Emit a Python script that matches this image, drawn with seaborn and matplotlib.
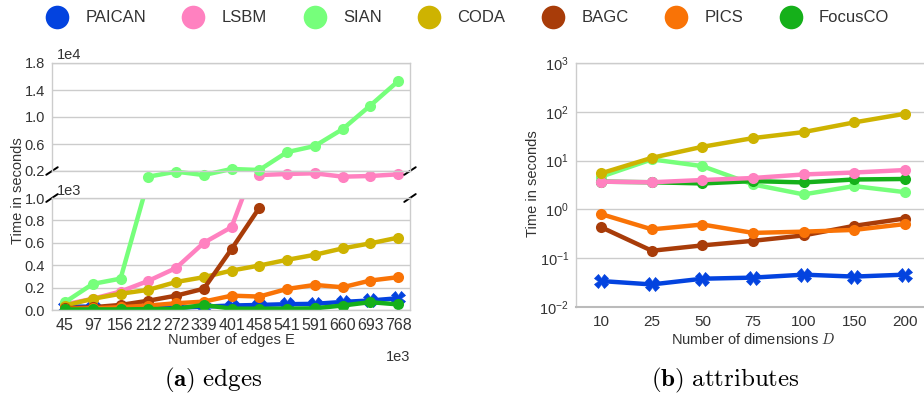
import numpy as np
import pandas as pd
import matplotlib
matplotlib.use("Agg")
import matplotlib.pyplot as plt
import seaborn as sns

sns.set_style("white")
plt.rcParams["font.family"] = ["Liberation Sans", "DejaVu Sans"]
plt.rcParams["mathtext.fontset"] = "cm"

methods = ["PAICAN", "LSBM", "SIAN", "CODA", "BAGC", "PICS", "FocusCO"]
colors = ["#0343df", "#ff81c0", "#76ff7b", "#ceb301", "#a83c09", "#f97306", "#15b01a"]
markers = ["X", "o", "o", "o", "o", "o", "o"]

# (a) runtime vs. number of edges (edges in thousands, time in seconds)
edges = [45, 97, 156, 212, 272, 339, 401, 458, 541, 591, 660, 693, 768]
edge_paican = [30, 30, 15, 15, 20, 30, 40, 45, 52, 55, 72, 85, 105]
edge_lsbm = [50, 100, 165, 260, 375, 600, 740, 1400, 1560, 1660, 1160, 1260, 1510]
edge_sian = [70, 233, 280, 1160, 1900, 1400, 2300, 2150, 4800, 5700, 8200, 11700, 15300]
edge_coda = [40, 100, 145, 180, 250, 293, 352, 397, 448, 493, 550, 595, 646]
edge_bagc = [15, 25, 45, 83, 128, 190, 544, 912, None, None, None, None, None]
edge_pics = [10, 15, 25, 40, 60, 75, 128, 120, 188, 224, 203, 263, 293]
edge_focusco = [5, 5, 5, 8, 10, 45, 12, 12, 12, 15, 40, 70, 50]

# (b) runtime vs. number of attribute dimensions
dims = [10, 25, 50, 75, 100, 150, 200]
dim_paican = [0.034, 0.029, 0.038, 0.040, 0.046, 0.042, 0.046]
dim_lsbm = [3.7, 3.6, 4.0, 4.4, 5.2, 5.7, 6.4]
dim_sian = [4.7, 10.6, 7.7, 3.25, 2.03, 3.0, 2.26]
dim_coda = [5.5, 11.4, 19.2, 28.9, 38.4, 60.6, 91.0]
dim_bagc = [0.43, 0.142, 0.183, 0.227, 0.293, 0.46, 0.65]
dim_pics = [0.80, 0.39, 0.49, 0.33, 0.35, 0.38, 0.50]
dim_focusco = [3.7, 3.6, 3.4, 3.8, 3.57, 4.1, 4.2]

edge_series = dict(zip(methods, [edge_paican, edge_lsbm, edge_sian, edge_coda,
                                 edge_bagc, edge_pics, edge_focusco]))
dim_series = dict(zip(methods, [dim_paican, dim_lsbm, dim_sian, dim_coda,
                                dim_bagc, dim_pics, dim_focusco]))
color_of = dict(zip(methods, colors))
marker_of = dict(zip(methods, markers))


def long_frame(series):
    rows = []
    for m, vals in series.items():
        for i, v in enumerate(vals):
            rows.append({"method": m, "pos": i, "time": np.nan if v is None else v})
    return pd.DataFrame(rows).dropna()


df_e = long_frame(edge_series)
df_d = long_frame(dim_series)

W, H = 924, 394
fig = plt.figure(figsize=(W / 100, H / 100), dpi=100)


def rect(x0, y0, x1, y1):
    return [x0 / W, 1 - y1 / H, (x1 - x0) / W, (y1 - y0) / H]


ax_top = fig.add_axes(rect(52, 63, 410, 171))
ax_bot = fig.add_axes(rect(52, 198, 410, 310))
ax_r = fig.add_axes(rect(576, 63, 930, 307))

grid_c = "#cccccc"
txt_c = "#333333"


def draw(ax, df, order, lw=3.2, ms=8):
    for m in order:
        sub = df[df["method"] == m]
        if sub.empty:
            continue
        mk = marker_of[m]
        sns.lineplot(data=sub, x="pos", y="time", ax=ax, color=color_of[m],
                     marker=mk, markersize=(10 if mk == "X" else ms),
                     markeredgewidth=(0.5 if mk == "X" else 0),
                     markeredgecolor=color_of[m],
                     linewidth=lw, sort=False, legend=False, errorbar=None)


def style(ax):
    for s in ax.spines.values():
        s.set_color(grid_c)
        s.set_linewidth(1.0)
    ax.grid(axis="y", color=grid_c, linewidth=1.0)
    ax.grid(axis="x", visible=False)
    ax.set_axisbelow(True)
    ax.tick_params(length=0, labelsize=10.5, colors=txt_c, pad=5)
    ax.set_xlabel("")
    ax.set_ylabel("")


# ---- (a) broken axis ----
draw(ax_bot, df_e, methods)
draw(ax_top, df_e[df_e["time"] >= 1000], methods)
for ln in ax_top.lines:
    ln.set_clip_on(False)

for ax in (ax_top, ax_bot):
    ax.set_xlim(-0.47, 12.43)
    style(ax)

ax_top.set_ylim(2000, 18000)
yt = [2000, 6000, 10000, 14000, 18000]
ax_top.set_yticks(yt)
ax_top.set_yticklabels([f"{v / 1e4:.1f}" for v in yt])
ax_top.set_xticks([])

ax_bot.set_ylim(0, 1000)
yb = [0, 200, 400, 600, 800, 1000]
ax_bot.set_yticks(yb)
ax_bot.set_yticklabels([f"{v / 1e3:.1f}" for v in yb])
ax_bot.set_xticks(range(len(edges)))
ax_bot.set_xticklabels([str(e) for e in edges])
ax_bot.tick_params(axis="x", pad=6, labelsize=11.5)

ax_top.text(0.015, 1.01, "1e4", transform=ax_top.transAxes, fontsize=10.5,
            color=txt_c, va="bottom", ha="left")
ax_bot.text(0.015, 1.0, "1e3", transform=ax_bot.transAxes, fontsize=10.5,
            color=txt_c, va="bottom", ha="left")
ax_bot.text(1.0, -0.36, "1e3", transform=ax_bot.transAxes, fontsize=10.5,
            color=txt_c, va="top", ha="right")

# break marks
dx, dy = 0.016, 0.035
for ax, yv in ((ax_top, 0.0), (ax_bot, 1.0)):
    for xv in (0.0, 1.0):
        ax.plot([xv - dx, xv + dx], [yv - dy, yv + dy], transform=ax.transAxes,
                color="black", lw=1.4, clip_on=False)

fig.text(18 / W, 1 - 191 / H, "Time in seconds", rotation=90, fontsize=10.5,
         color=txt_c, ha="center", va="center")
fig.text(231 / W, 1 - 340 / H, "Number of edges E", fontsize=10.5,
         color=txt_c, ha="center", va="center")

# ---- (b) log axis ----
order_r = ["PAICAN", "SIAN", "FocusCO", "LSBM", "BAGC", "PICS", "CODA"]
draw(ax_r, df_d, order_r)
ax_r.set_yscale("log")
ax_r.set_ylim(0.01, 1000)
ax_r.set_xlim(-0.5, 6.5)
style(ax_r)
ax_r.set_yticks([0.01, 0.1, 1, 10, 100, 1000])
ax_r.set_yticklabels([r"$\mathregular{10^{-2}}$", r"$\mathregular{10^{-1}}$",
                      r"$\mathregular{10^{0}}$", r"$\mathregular{10^{1}}$",
                      r"$\mathregular{10^{2}}$", r"$\mathregular{10^{3}}$"])
ax_r.yaxis.set_minor_locator(matplotlib.ticker.NullLocator())
ax_r.set_xticks(range(len(dims)))
ax_r.set_xticklabels([str(d) for d in dims])
ax_r.tick_params(axis="x", pad=6, labelsize=11)
ax_r.spines["bottom"].set_color("#bbbbbb")
ax_r.spines["bottom"].set_linewidth(1.5)

fig.text(533 / W, 1 - 184 / H, "Time in seconds", rotation=90, fontsize=10.5,
         color=txt_c, ha="center", va="center")
fig.text(753 / W, 1 - 340 / H, r"Number of dimensions $D$", fontsize=10.5,
         color=txt_c, ha="center", va="center")

# ---- captions ----
fig.text(213 / W, 1 - 380 / H, r"$\mathbf{(a)}\ \mathrm{edges}$", fontsize=18,
         ha="center", va="center", color="black")
fig.text(725 / W, 1 - 380 / H, r"$\mathbf{(b)}\ \mathrm{attributes}$", fontsize=18,
         ha="center", va="center", color="black")

# ---- legend ----
handles = [matplotlib.lines.Line2D([], [], linestyle="none", marker="o",
                                   markersize=17, markerfacecolor=c,
                                   markeredgewidth=0) for c in colors]
fig.legend(handles, methods, loc="center", bbox_to_anchor=(0.503, 1 - 18 / H),
           ncol=7, frameon=False, fontsize=12, handletextpad=0.7,
           columnspacing=1.85, labelcolor=txt_c)

fig.savefig("out.png", dpi=100)
